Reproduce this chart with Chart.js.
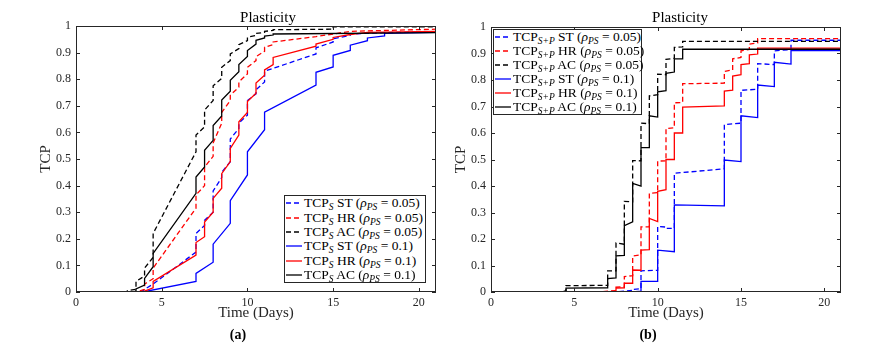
<!DOCTYPE html>
<html>
<head>
<meta charset="utf-8">
<title>Plasticity - TCP</title>
<script src="https://cdn.jsdelivr.net/npm/chart.js@4.4.1/dist/chart.umd.min.js"></script>
<style>
  body { margin: 0; background: #fff; }
  #fig { position: relative; width: 888px; height: 350px; font-family: 'Liberation Serif', serif; color: #262626; }
  canvas { position: absolute; top: 0; }
  .ttl { position: absolute; font-size: 15px; color: #000; transform: translate(-50%, -50%); white-space: nowrap; }
  .tag { position: absolute; font-size: 14px; font-weight: bold; color: #000; transform: translate(-50%, -50%); }
  .legend { position: absolute; box-sizing: border-box; background: #fff; border: 1px solid #262626; font-size: 13.5px; color: #000; }
  .legend .row { display: flex; align-items: center; white-space: nowrap; }
  .legend svg { margin: 0 2px 0 1px; flex: none; }
  .legend sub { font-size: 9.5px; vertical-align: -3px; line-height: 0; font-style: italic; }
</style>
</head>
<body>
<div id="fig">
  <canvas id="left" width="444" height="350" style="left:0"></canvas>
  <canvas id="right" width="444" height="350" style="left:444px"></canvas>
  <div class="ttl" style="left:268px; top:17px">Plasticity</div>
  <div class="ttl" style="left:680px; top:17px">Plasticity</div>
  <div class="legend" id="legLeft" style="left:284px; top:195px; width:142px; height:88px"></div>
  <div class="legend" id="legRight" style="left:493px; top:29px; width:149px; height:86px"></div>
  <div class="tag" style="left:238px; top:335px">(a)</div>
  <div class="tag" style="left:648px; top:335px">(b)</div>
</div>
<script>
// [day, TCP] pairs (a): TCP_S
const leftST05 = [[0,0],[3.8,0],[4,0.01],[4.5,0.03],[7,0.15],[7,0.22],[7.5,0.25],[7.5,0.27],[8,0.30],[8,0.38],[8.5,0.43],[8.5,0.45],[9,0.49],[9,0.575],[9.5,0.615],[9.5,0.635],[10,0.665],[10,0.72],[10.5,0.745],[10.5,0.76],[11,0.79],[11,0.83],[14,0.895],[14,0.918],[15,0.94],[15,0.952],[16,0.965],[16,0.97],[18,0.975],[21,0.978]];
const leftHR05 = [[0,0],[3.5,0],[4,0.01],[4,0.03],[4.5,0.05],[4.5,0.09],[7,0.315],[7,0.365],[7.5,0.40],[7.5,0.47],[8,0.51],[8,0.56],[8.5,0.635],[8.5,0.675],[9,0.72],[9,0.74],[9.5,0.77],[9.5,0.79],[10,0.82],[10,0.845],[10.5,0.87],[10.5,0.885],[11,0.905],[11,0.92],[11.5,0.93],[11.5,0.94],[14,0.96],[16,0.98],[21,0.988]];
const leftAC05 = [[0,0],[3,0],[3,0.005],[3.5,0.01],[3.5,0.04],[4,0.06],[4,0.09],[4.5,0.13],[4.5,0.22],[7,0.527],[7,0.59],[7.5,0.621],[7.5,0.684],[8,0.72],[8,0.775],[8.5,0.803],[8.5,0.845],[9,0.87],[9,0.895],[9.5,0.915],[9.5,0.93],[10,0.945],[10,0.958],[10.5,0.965],[10.5,0.972],[11,0.976],[11,0.98],[11.5,0.983],[11.5,0.986],[15,0.988],[15,0.997],[21,0.997]];
const leftST1 = [[0,0],[3.9,0],[7,0.04],[7,0.07],[8,0.112],[8,0.18],[9,0.258],[9,0.343],[10,0.44],[10,0.527],[11,0.61],[11,0.676],[14,0.778],[14,0.826],[15,0.846],[15,0.89],[16,0.908],[16,0.928],[17,0.945],[17,0.955],[18,0.963],[18,0.972],[21,0.976]];
const leftHR1 = [[0,0],[3.8,0],[4,0.003],[4.5,0.016],[4.5,0.04],[7,0.139],[7,0.186],[7.5,0.208],[7.5,0.263],[8,0.30],[8,0.352],[8.5,0.39],[8.5,0.445],[9,0.49],[9,0.54],[9.5,0.59],[9.5,0.64],[10,0.675],[10,0.716],[10.5,0.747],[10.5,0.786],[11,0.815],[11,0.835],[11.5,0.855],[11.5,0.882],[14,0.924],[14,0.932],[15,0.95],[15,0.957],[16,0.968],[17,0.976],[21,0.98]];
const leftAC1 = [[0,0],[3.4,0],[3.5,0.005],[3.5,0.012],[4,0.026],[4,0.051],[4.5,0.095],[4.5,0.145],[7,0.371],[7,0.432],[7.5,0.47],[7.5,0.533],[8,0.57],[8,0.626],[8.5,0.662],[8.5,0.722],[9,0.755],[9,0.796],[9.5,0.828],[9.5,0.855],[10,0.885],[10,0.908],[10.5,0.932],[10.5,0.946],[11,0.955],[11,0.962],[11.5,0.966],[11.5,0.97],[21,0.975]];

// figure (b): TCP_S+P
const rightST05 = [[0,0],[7.5,0],[8,0.003],[8.5,0.006],[8.5,0.01],[9,0.012],[9,0.08],[10,0.082],[10,0.247],[10.5,0.245],[10.5,0.24],[11,0.24],[11,0.448],[14,0.465],[14,0.632],[15,0.637],[15,0.761],[16,0.765],[16,0.862],[17,0.858],[17,0.91],[18,0.915],[18,0.95],[21,0.95]];
const rightHR05 = [[0,0],[6.5,0],[7,0.003],[7.5,0.005],[7.5,0.018],[8,0.02],[8,0.058],[8.5,0.062],[8.5,0.136],[9,0.14],[9,0.246],[9.5,0.246],[9.5,0.372],[10,0.375],[10,0.494],[10.5,0.495],[10.5,0.617],[11,0.62],[11,0.714],[11.5,0.715],[11.5,0.786],[14,0.788],[14,0.832],[14.5,0.838],[14.5,0.88],[15,0.885],[15,0.91],[15.5,0.915],[15.5,0.935],[16,0.94],[16,0.956],[21,0.956]];
const rightAC05 = [[0,0],[4.2,0],[4.5,0.004],[4.5,0.024],[7,0.025],[7,0.08],[7.5,0.08],[7.5,0.185],[8,0.18],[8,0.342],[8.5,0.34],[8.5,0.496],[9,0.495],[9,0.637],[9.5,0.635],[9.5,0.74],[10,0.745],[10,0.822],[10.5,0.82],[10.5,0.878],[11,0.882],[11,0.923],[11.5,0.925],[11.5,0.946],[21,0.946]];
const rightST1 = [[0,0],[8.5,0],[9,0.003],[9,0.04],[10,0.04],[10,0.158],[11,0.152],[11,0.329],[14,0.325],[14,0.498],[15,0.492],[15,0.665],[16,0.658],[16,0.781],[17,0.775],[17,0.867],[18,0.86],[18,0.912],[21,0.911]];
const rightHR1 = [[0,0],[7,0],[7.5,0.003],[7.5,0.015],[8,0.016],[8,0.033],[8.5,0.033],[8.5,0.083],[9,0.082],[9,0.158],[9.5,0.16],[9.5,0.278],[10,0.266],[10,0.38],[10.5,0.386],[10.5,0.5],[11,0.5],[11,0.6],[11.5,0.6],[11.5,0.698],[14,0.702],[14,0.758],[14.5,0.762],[14.5,0.815],[15,0.82],[15,0.858],[15.5,0.862],[15.5,0.895],[16,0.898],[16,0.92],[21,0.92]];
const rightAC1 = [[0,0],[4.3,0],[4.5,0.003],[4.5,0.015],[7,0.016],[7,0.051],[7.5,0.053],[7.5,0.136],[8,0.138],[8,0.25],[8.5,0.265],[8.5,0.41],[9,0.4],[9,0.545],[9.5,0.545],[9.5,0.665],[10,0.66],[10,0.755],[10.5,0.76],[10.5,0.825],[11,0.83],[11,0.88],[11.5,0.88],[11.5,0.916],[21,0.916]];

const methods = ['ST', 'HR', 'AC', 'ST', 'HR', 'AC'];
const rhos = ['0.05', '0.05', '0.05', '0.1', '0.1', '0.1'];
const dayTicks = [0, 5, 10, 15, 20];
const tcpTicks = [0, 0.1, 0.2, 0.3, 0.4, 0.5, 0.6, 0.7, 0.8, 0.9, 1];

const colors = ['#0000ff', '#ff0000', '#000000', '#0000ff', '#ff0000', '#000000'];
const dashes = [[5, 3], [5, 3], [5, 3], [], [], []];
const axisColor = '#262626';
const serif = "'Liberation Serif', serif";

// MATLAB style box with inward tick marks on all four sides
const boxTicks = {
  id: 'boxTicks',
  afterDraw(chart) {
    const {ctx, chartArea: a, scales: {x, y}} = chart;
    ctx.save();
    ctx.strokeStyle = axisColor;
    ctx.lineWidth = 1;
    ctx.beginPath();
    x.ticks.forEach(t => {
      const px = Math.round(x.getPixelForValue(t.value)) + 0.5;
      ctx.moveTo(px, a.bottom); ctx.lineTo(px, a.bottom - 4);
      ctx.moveTo(px, a.top); ctx.lineTo(px, a.top + 4);
    });
    y.ticks.forEach(t => {
      const py = Math.round(y.getPixelForValue(t.value)) + 0.5;
      ctx.moveTo(a.left, py); ctx.lineTo(a.left + 4, py);
      ctx.moveTo(a.right, py); ctx.lineTo(a.right - 4, py);
    });
    ctx.stroke();
    ctx.strokeRect(a.left + 0.5, a.top + 0.5, a.width - 1, a.height - 1);
    ctx.restore();
  }
};

// plain number labels: 0, 0.1, ..., 1 (no trailing zeros)
const plainLabel = v => String(+Number(v).toFixed(2));

function makeChart(id, series, box) {
  return new Chart(document.getElementById(id), {
    type: 'line',
    data: {
      datasets: series.map((pts, i) => ({
        data: pts.map(p => ({x: p[0], y: p[1]})),
        borderColor: colors[i],
        borderDash: dashes[i],
        borderWidth: 1.3,
        pointRadius: 0,
        tension: 0,
        fill: false,
        order: series.length - i
      }))
    },
    options: {
      responsive: false,
      animation: false,
      layout: { padding: { top: box.top, right: box.right, left: 0, bottom: 0 } },
      plugins: { legend: { display: false }, tooltip: { enabled: false } },
      scales: {
        x: {
          type: 'linear', min: 0, max: 21,
          afterFit: s => { s.height = 58; },
          afterBuildTicks: s => { s.ticks = dayTicks.map(v => ({value: v})); },
          grid: { display: false, drawTicks: false },
          border: { display: false },
          ticks: { padding: 4, color: axisColor, font: { family: serif, size: 12 }, callback: plainLabel },
          title: { display: true, text: 'Time (Days)', color: axisColor, font: { family: serif, size: 15 }, padding: { top: 0, bottom: 28 } }
        },
        y: {
          type: 'linear', min: 0, max: 1,
          afterFit: s => { s.width = box.yWidth; },
          afterBuildTicks: s => { s.ticks = tcpTicks.map(v => ({value: v})); },
          grid: { display: false, drawTicks: false },
          border: { display: false },
          ticks: { padding: 5, color: axisColor, font: { family: serif, size: 12 }, callback: plainLabel },
          title: { display: true, text: 'TCP', color: axisColor, font: { family: serif, size: 15 }, padding: { top: box.yTitle, bottom: 0 } }
        }
      }
    },
    plugins: [boxTicks]
  });
}

function fillLegend(id, sub, rowH) {
  const el = document.getElementById(id);
  el.innerHTML = methods.map((m, i) => {
    const dash = dashes[i].length ? ` stroke-dasharray="${dashes[i].join(',')}"` : '';
    return `<div class="row" style="height:${rowH}px">` +
      `<svg width="16" height="4"><line x1="0" y1="2" x2="16" y2="2" stroke="${colors[i]}" stroke-width="1.3"${dash}/></svg>` +
      `<span>TCP<sub>${sub}</sub> ${m} (<i>ρ<sub>PS</sub></i> = ${rhos[i]})</span></div>`;
  }).join('');
}

makeChart('left', [leftST05, leftHR05, leftAC05, leftST1, leftHR1, leftAC1], { top: 26, right: 8, yWidth: 76, yTitle: 37 });
makeChart('right', [rightST05, rightHR05, rightAC05, rightST1, rightHR1, rightAC1], { top: 27, right: 47, yWidth: 47, yTitle: 8 });
fillLegend('legLeft', 'S', 14.4);
fillLegend('legRight', 'S+P', 14);
</script>
</body>
</html>
